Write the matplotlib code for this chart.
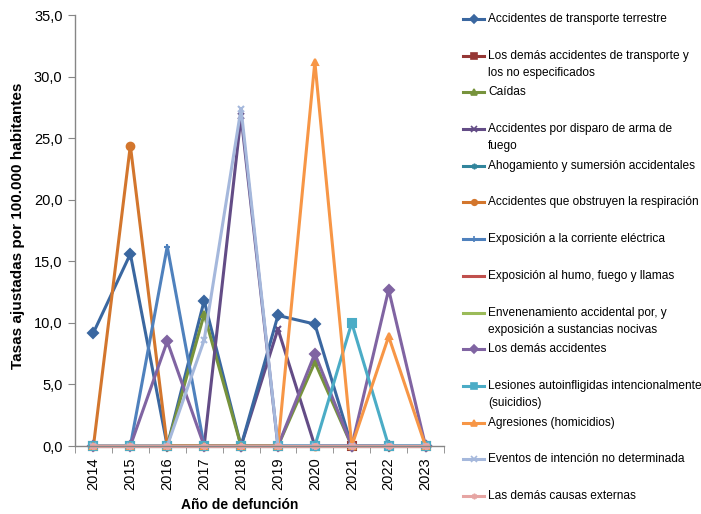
import numpy as np
import matplotlib
matplotlib.use("Agg")
import matplotlib.pyplot as plt
from matplotlib.lines import Line2D
from matplotlib import font_manager

# Excel usa Arial Narrow; si no hay fuente estrecha se reduce el tamaño
available = {f.name for f in font_manager.fontManager.ttflist}
narrow = None
for name in ['Liberation Sans Narrow', 'Arial Narrow']:
    if name in available:
        narrow = name
        break
if narrow is not None:
    plt.rcParams['font.family'] = [narrow, 'Liberation Sans', 'DejaVu Sans']
    legend_size = 10.5
else:
    plt.rcParams['font.family'] = ['Liberation Sans', 'DejaVu Sans']
    legend_size = 8.6

### Datos: tasas ajustadas por 100.000 habitantes ###

years = ['2014', '2015', '2016', '2017', '2018', '2019', '2020', '2021', '2022', '2023']

transporte_terrestre = [9.2, 15.6, 0, 11.8, 0, 10.6, 9.9, 0, 0, 0]
otros_transporte = [0, 0, 0, 0, 0, 0, 0, 0, 0, 0]
caidas = [0, 0, 0, 10.7, 0, 0, 6.8, 0, 0, 0]
disparo = [0, 0, 0, 0, 26.8, 0, 0, 0, 0, 0]
ahogamiento = [0, 0, 0, 0, 0, 0, 0, 0, 0, 0]
obstruyen = [0, 24.4, 0, 0, 0, 0, 0, 0, 0, 0]
corriente = [0, 0, 16.2, 0, 0, 0, 0, 0, 0, 0]
humo = [0, 0, 0, 0, 0, 0, 0, 0, 0, 0]
envenenamiento = [0, 0, 0, 0, 0, 0, 0, 0, 0, 0]
demas_accidentes = [0, 0, 8.5, 0, 0, 0, 7.5, 0, 12.7, 0]
lesiones = [0, 0, 0, 0, 0, 0, 0, 10.0, 0, 0]
agresiones = [0, 0, 0, 0, 0, 0, 31.2, 0, 8.9, 0]
eventos = [0, 0, 0, 8.6, 27.4, 0, 0, 0, 0, 0]
demas_causas = [0, 0, 0, 0, 0, 0, 0, 0, 0, 0]
sin_leyenda = [0, 0, 0, 0, 0, 9.5, 0, 0, 0, 0]   # serie sin entrada en la leyenda

series = [
    ('Accidentes de transporte terrestre', transporte_terrestre, '#3A67A0', 'D'),
    ('Los demás accidentes de transporte y\nlos no especificados', otros_transporte, '#953735', 's'),
    ('Caídas', caidas, '#77933C', '^'),
    ('Accidentes por disparo de arma de\nfuego', disparo, '#634C86', 'x'),
    ('Ahogamiento y sumersión accidentales', ahogamiento, '#31859C', (6, 2, 0)),
    ('Accidentes que obstruyen la respiración', obstruyen, '#D3762D', 'o'),
    ('Exposición a la corriente eléctrica', corriente, '#4F81BD', '+'),
    ('Exposición al humo, fuego y llamas', humo, '#C0504D', None),
    ('Envenenamiento accidental por, y\nexposición a sustancias nocivas', envenenamiento, '#9BBB59', None),
    ('Los demás accidentes', demas_accidentes, '#8064A2', 'D'),
    ('Lesiones autoinfligidas intencionalmente\n(suicidios)', lesiones, '#4BACC6', 's'),
    ('Agresiones (homicidios)', agresiones, '#F79646', '^'),
    ('Eventos de intención no determinada', eventos, '#A5B8DC', 'x'),
    ('Las demás causas externas', demas_causas, '#E6A5A3', (6, 2, 0)),
]

fig = plt.figure(figsize=(7.01, 5.14), dpi=100)
ax = fig.add_axes([75/701, 68/514, 369/701, 431/514])

x = np.arange(len(years))

# serie extra (dibujada antes, sin leyenda)
ax.plot(x, sin_leyenda, color='#634C86', lw=2.2, marker='x', ms=5, mew=1.5)

for label, vals, col, mk in series:
    ax.plot(x, vals, color=col, lw=2.2, marker=mk, ms=5 if mk not in ('s', 'o') else 5.5,
            mew=1.5, label=label)

ax.set_xlim(-0.5, 9.5)
ax.set_ylim(0, 35)
ax.set_yticks(np.arange(0, 36, 5))
ax.set_yticklabels([f'{v:.1f}'.replace('.', ',') for v in np.arange(0, 36, 5)])
ax.set_xticks(x)
ax.set_xticklabels(years, rotation=90)
ax.set_xticks(np.arange(-0.5, 10, 1), minor=True)
ax.tick_params(axis='x', which='major', length=0, pad=8)
ax.tick_params(axis='x', which='minor', length=5, color='#868686')
ax.tick_params(axis='y', length=5, color='#868686', pad=4)
ax.tick_params(labelsize=10.5)

for s in ['top', 'right']:
    ax.spines[s].set_visible(False)
for s in ['left', 'bottom']:
    ax.spines[s].set_color('#868686')
    ax.spines[s].set_linewidth(1)
for ln in ax.lines:
    ln.set_clip_on(False)

fig.text(18/701, 1 - 226/514, 'Tasas ajustadas por 100.000 habitantes', rotation=90,
         ha='center', va='center', fontsize=11, fontweight='bold')
fig.text(240/701, 1 - 505/514, 'Año de defunción', ha='center', va='center',
         fontsize=10, fontweight='bold')

# Leyenda a la derecha, estilo Excel
for i, (label, vals, col, mk) in enumerate(series):
    y = 19 + 36.7 * i
    fy = 1 - y / 514
    fig.add_artist(Line2D([463/701, 484/701], [fy, fy], color=col, lw=2.2,
                          transform=fig.transFigure))
    if mk is not None:
        fig.add_artist(Line2D([473.5/701], [fy], color=col, marker=mk, ms=4, mew=1.2,
                              transform=fig.transFigure))
    for j, part in enumerate(label.split('\n')):
        fig.text(488/701, 1 - (y + 17 * j) / 514, part, ha='left', va='center',
                 fontsize=legend_size)

fig.savefig('out.png', dpi=100)
